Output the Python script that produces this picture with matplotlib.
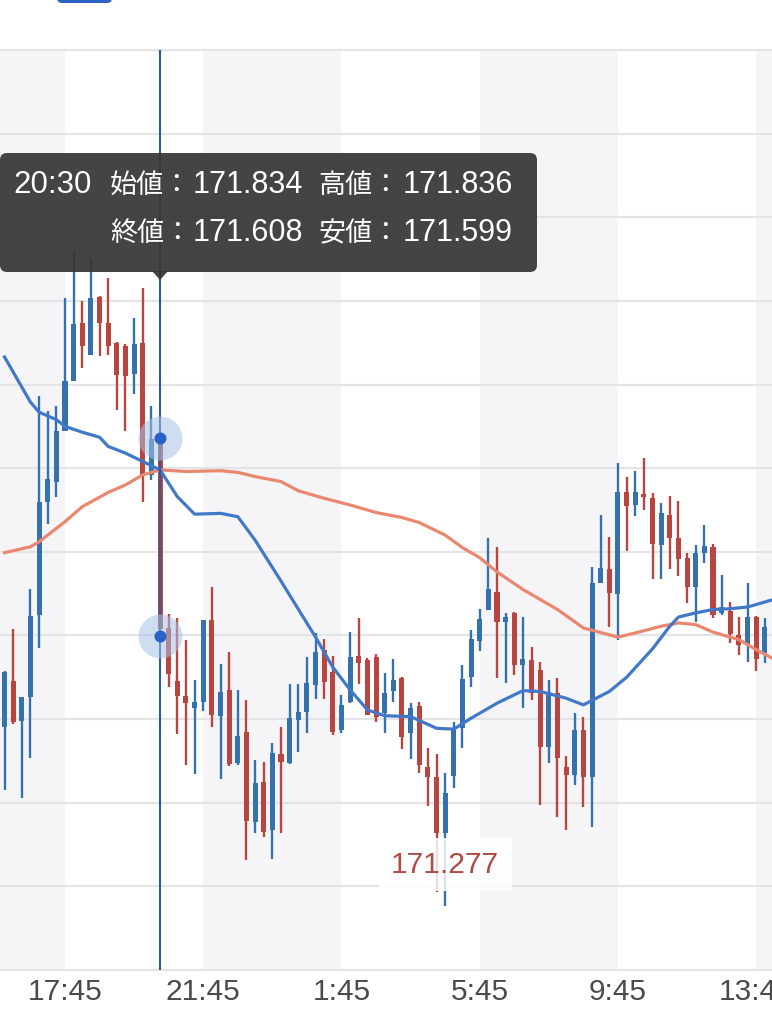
import numpy as np
import pandas as pd
import matplotlib
matplotlib.use("Agg")
import matplotlib.pyplot as plt
from matplotlib.patches import FancyBboxPatch, Polygon
from matplotlib.transforms import blended_transform_factory

# ---------------- data ----------------
idx = list(range(-7, 82))  # candle slots (15-minute), 0 = 17:45
times = [t.strftime("%-H:%M") for t in pd.date_range("2024-01-01 16:00", periods=len(idx), freq="15min")]

opens = [171.490, 171.546, 171.498, 171.526, 171.624, 171.760, 171.783, 171.845, 171.904, 171.974,
         171.935, 172.005, 171.974, 171.950, 171.946, 171.913, 171.950, 171.792, 171.834, 171.609,
         171.546, 171.528, 171.513, 171.520, 171.618, 171.504, 171.535, 171.447, 171.484, 171.377,
         171.425, 171.367, 171.458, 171.447, 171.499, 171.509, 171.541, 171.583, 171.556, 171.487,
         171.521, 171.575, 171.571, 171.574, 171.507, 171.533, 171.549, 171.483, 171.516, 171.443,
         171.431, 171.364, 171.432, 171.489, 171.550, 171.593, 171.631, 171.652, 171.616, 171.627,
         171.565, 171.571, 171.559, 171.467, 171.531, 171.443, 171.433, 171.487, 171.431, 171.663,
         171.679, 171.650, 171.772, 171.756, 171.769, 171.764, 171.708, 171.744, 171.717, 171.693,
         171.658, 171.699, 171.706, 171.627, 171.629, 171.601, 171.589, 171.622, 171.579]
highs = [171.558, 171.608, 171.527, 171.656, 171.886, 171.868, 171.874, 172.004, 172.060, 172.000,
         172.050, 172.006, 172.027, 171.951, 171.948, 171.979, 172.015, 171.874, 171.836, 171.626,
         171.621, 171.595, 171.547, 171.619, 171.658, 171.566, 171.580, 171.535, 171.523, 171.451,
         171.449, 171.471, 171.490, 171.542, 171.542, 171.574, 171.603, 171.596, 171.575, 171.529,
         171.604, 171.621, 171.573, 171.578, 171.555, 171.572, 171.550, 171.519, 171.520, 171.465,
         171.458, 171.436, 171.497, 171.565, 171.607, 171.632, 171.716, 171.706, 171.627, 171.628,
         171.622, 171.586, 171.568, 171.547, 171.549, 171.456, 171.507, 171.502, 171.682, 171.744,
         171.718, 171.806, 171.790, 171.797, 171.812, 171.770, 171.758, 171.767, 171.761, 171.699,
         171.708, 171.732, 171.709, 171.672, 171.640, 171.622, 171.663, 171.623, 171.621]
lows = [171.415, 171.494, 171.406, 171.453, 171.585, 171.733, 171.765, 171.845, 171.904, 171.920,
        171.935, 171.934, 171.935, 171.869, 171.845, 171.889, 171.760, 171.786, 171.599, 171.538,
        171.482, 171.445, 171.434, 171.510, 171.490, 171.428, 171.444, 171.445, 171.332, 171.364,
        171.359, 171.333, 171.364, 171.446, 171.461, 171.483, 171.524, 171.524, 171.481, 171.483,
        171.519, 171.542, 171.505, 171.497, 171.483, 171.521, 171.464, 171.452, 171.436, 171.396,
        171.293, 171.277, 171.418, 171.466, 171.538, 171.581, 171.631, 171.549, 171.543, 171.553,
        171.513, 171.523, 171.397, 171.448, 171.383, 171.367, 171.421, 171.395, 171.371, 171.663,
        171.610, 171.595, 171.701, 171.743, 171.750, 171.668, 171.668, 171.680, 171.671, 171.639,
        171.616, 171.687, 171.621, 171.625, 171.591, 171.577, 171.568, 171.558, 171.567]
closes = [171.556, 171.496, 171.526, 171.623, 171.760, 171.787, 171.844, 171.904, 171.972, 171.946,
          172.003, 171.974, 171.946, 171.912, 171.910, 171.949, 171.791, 171.835, 171.608, 171.554,
          171.528, 171.519, 171.521, 171.618, 171.505, 171.532, 171.446, 171.480, 171.378, 171.424,
          171.365, 171.459, 171.449, 171.501, 171.509, 171.543, 171.580, 171.544, 171.485, 171.517,
          171.574, 171.567, 171.505, 171.502, 171.531, 171.547, 171.479, 171.513, 171.445, 171.431,
          171.364, 171.412, 171.487, 171.548, 171.596, 171.620, 171.656, 171.616, 171.622, 171.565,
          171.572, 171.531, 171.467, 171.532, 171.453, 171.433, 171.487, 171.431, 171.663, 171.681,
          171.651, 171.771, 171.755, 171.771, 171.766, 171.709, 171.746, 171.717, 171.691, 171.658,
          171.699, 171.707, 171.625, 171.634, 171.602, 171.589, 171.622, 171.572, 171.610]

# moving averages (slot index, price)
ma_short_idx = [-7, -4, -3, -1, 0, 2, 4, 5, 7, 8, 10, 11, 13, 15, 18, 20, 22, 25, 29, 31, 33, 35, 37,
                40, 43, 45, 47, 50, 53, 55, 58, 60, 63, 65, 68, 70, 71, 73, 75, 77, 79, 82]
ma_short_val = [171.933, 171.879, 171.867, 171.858, 171.850, 171.843, 171.837, 171.826, 171.818, 171.813,
                171.803, 171.798, 171.766, 171.745, 171.746, 171.742, 171.714, 171.665, 171.598, 171.562,
                171.535, 171.511, 171.504, 171.503, 171.489, 171.488, 171.501, 171.519, 171.534, 171.533,
                171.525, 171.517, 171.533, 171.550, 171.584, 171.611, 171.622, 171.627, 171.631, 171.632,
                171.634, 171.643]
ma_long_idx = [-7, -4, -3, 0, 2, 5, 7, 9, 11, 14, 18, 20, 22, 25, 27, 30, 33, 36, 39, 41, 44, 46, 48,
               50, 53, 57, 60, 64, 66, 69, 71, 73, 75, 78, 80, 82]
ma_long_val = [171.699, 171.706, 171.712, 171.736, 171.754, 171.771, 171.780, 171.792, 171.798, 171.796,
               171.797, 171.795, 171.790, 171.784, 171.773, 171.764, 171.756, 171.747, 171.741, 171.735,
               171.720, 171.705, 171.693, 171.676, 171.655, 171.631, 171.609, 171.598, 171.603, 171.611,
               171.615, 171.613, 171.604, 171.595, 171.583, 171.572]

tick_idx = [0, 16, 32, 48, 64, 80]
tick_labels = ["17:45", "21:45", "1:45", "5:45", "9:45", "13:45"]
selected_time = "20:30"
y_levels = [171.2, 171.3, 171.4, 171.5, 171.6, 171.7, 171.8, 171.9, 172.0, 172.1, 172.2, 172.3]

# ---------------- styling ----------------
W, H = 772, 1018
UP = "#3571ad"
DOWN = "#b8453f"
MA_S = "#4179c8"
MA_L = "#e9886f"
GRID = "#e4e4e7"
BAND = "#f5f5f7"
DIGIT_FONT = ["Liberation Sans", "DejaVu Sans"]
CJK_FONT = ["Noto Sans CJK JP", "DejaVu Sans"]

fig = plt.figure(figsize=(W / 100, H / 100), dpi=100)
fig.patch.set_facecolor("white")

ax = fig.add_axes([0, (H - 970) / H, 1, 920 / H])
ax.set_xlim(-65 / 8.64, (W - 65) / 8.64)
ax.set_ylim(y_levels[0], y_levels[-1])
for s in ax.spines.values():
    s.set_visible(False)
ax.set_xticks([])
ax.set_yticks([])
ax.set_facecolor("white")

# alternating background bands, 4 hours each
edges = [-100] + tick_idx + [200]
for k in range(len(edges) - 1):
    if k % 2 == 0:
        ax.axvspan(edges[k], edges[k + 1], color=BAND, lw=0, zorder=0)

for lv in y_levels:
    ax.axhline(lv, color=GRID, lw=1.5, zorder=0.5, clip_on=False)

# candles
o = np.array(opens); h = np.array(highs); l = np.array(lows); c = np.array(closes)
x = np.array(idx)
cols = [UP if cc >= oo else DOWN for oo, cc in zip(o, c)]
ax.vlines(x, l, h, colors=cols, lw=1.7, zorder=2)
body_h = np.maximum(np.abs(c - o), 0.002)
ax.bar(x, body_h, bottom=np.minimum(o, c), width=0.58, color=cols, lw=0, zorder=2)

# moving averages
ax.plot(ma_long_idx, ma_long_val, color=MA_L, lw=2.3, zorder=3, solid_joinstyle="round")
ax.plot(ma_short_idx, ma_short_val, color=MA_S, lw=2.3, zorder=3, solid_joinstyle="round")

# crosshair on selected candle
k = times.index(selected_time)
xs = idx[k]
ax.axvline(xs, color="#2c5b9f", lw=1.5, zorder=4)
for yv in (highs[k], lows[k]):
    ax.scatter([xs], [yv], s=1000, color="#a9c1e6", alpha=0.55, lw=0, zorder=5)
    ax.scatter([xs], [yv], s=75, color="#2a63c8", lw=0, zorder=6)

# minimum label
imin = int(np.argmin(l))
ax.annotate(f"{l[imin]:.3f}", xy=(idx[imin], l[imin]), xytext=(0, 41), textcoords="offset pixels",
            ha="center", va="center", fontsize=21.5, family=DIGIT_FONT, color="#b04a45", zorder=7,
            bbox=dict(boxstyle="square,pad=0.42", fc="white", ec="none", alpha=0.82))

# x labels
tr = blended_transform_factory(ax.transData, fig.transFigure)
for ti, tl in zip(tick_idx, tick_labels):
    ax.text(ti, (H - 1000) / H, tl, transform=tr, ha="center", va="baseline",
            fontsize=21.5, family=DIGIT_FONT, color="#4a4a4a", clip_on=False)

# ---------------- overlay (pixel coordinates) ----------------
ov = fig.add_axes([0, 0, 1, 1], facecolor="none")
ov.set_xlim(0, W)
ov.set_ylim(H, 0)
ov.axis("off")

# top button fragment
ov.add_patch(FancyBboxPatch((57, -14), 55, 17, boxstyle="round,pad=0,rounding_size=5",
                            fc="#2e62bf", ec="none", zorder=1, clip_on=False))

# tooltip
ov.add_patch(FancyBboxPatch((0, 153), 537, 119, boxstyle="round,pad=0,rounding_size=7",
                            fc="#363636", ec="none", alpha=0.93, zorder=10))
px_sel = 65 + xs * 8.64
ov.add_patch(Polygon([[px_sel - 8, 271], [px_sel + 8, 271], [px_sel, 280]], closed=True,
                     fc="#363636", ec="none", alpha=0.93, zorder=10))

def tt(xp, yp, s, fam, size):
    ov.text(xp, yp, s, ha="left", va="baseline", color="white", fontsize=size, family=fam, zorder=11)

tt(13, 193, selected_time, DIGIT_FONT, 22.5)
tt(110, 193, "始値：", CJK_FONT, 19.5)
tt(193, 193, f"{opens[k]:.3f}", DIGIT_FONT, 22)
tt(318, 193, "高値：", CJK_FONT, 19.5)
tt(403, 193, f"{highs[k]:.3f}", DIGIT_FONT, 22)
tt(110, 241, "終値：", CJK_FONT, 19.5)
tt(193, 241, f"{closes[k]:.3f}", DIGIT_FONT, 22)
tt(318, 241, "安値：", CJK_FONT, 19.5)
tt(403, 241, f"{lows[k]:.3f}", DIGIT_FONT, 22)

fig.savefig("out.png", dpi=100)
